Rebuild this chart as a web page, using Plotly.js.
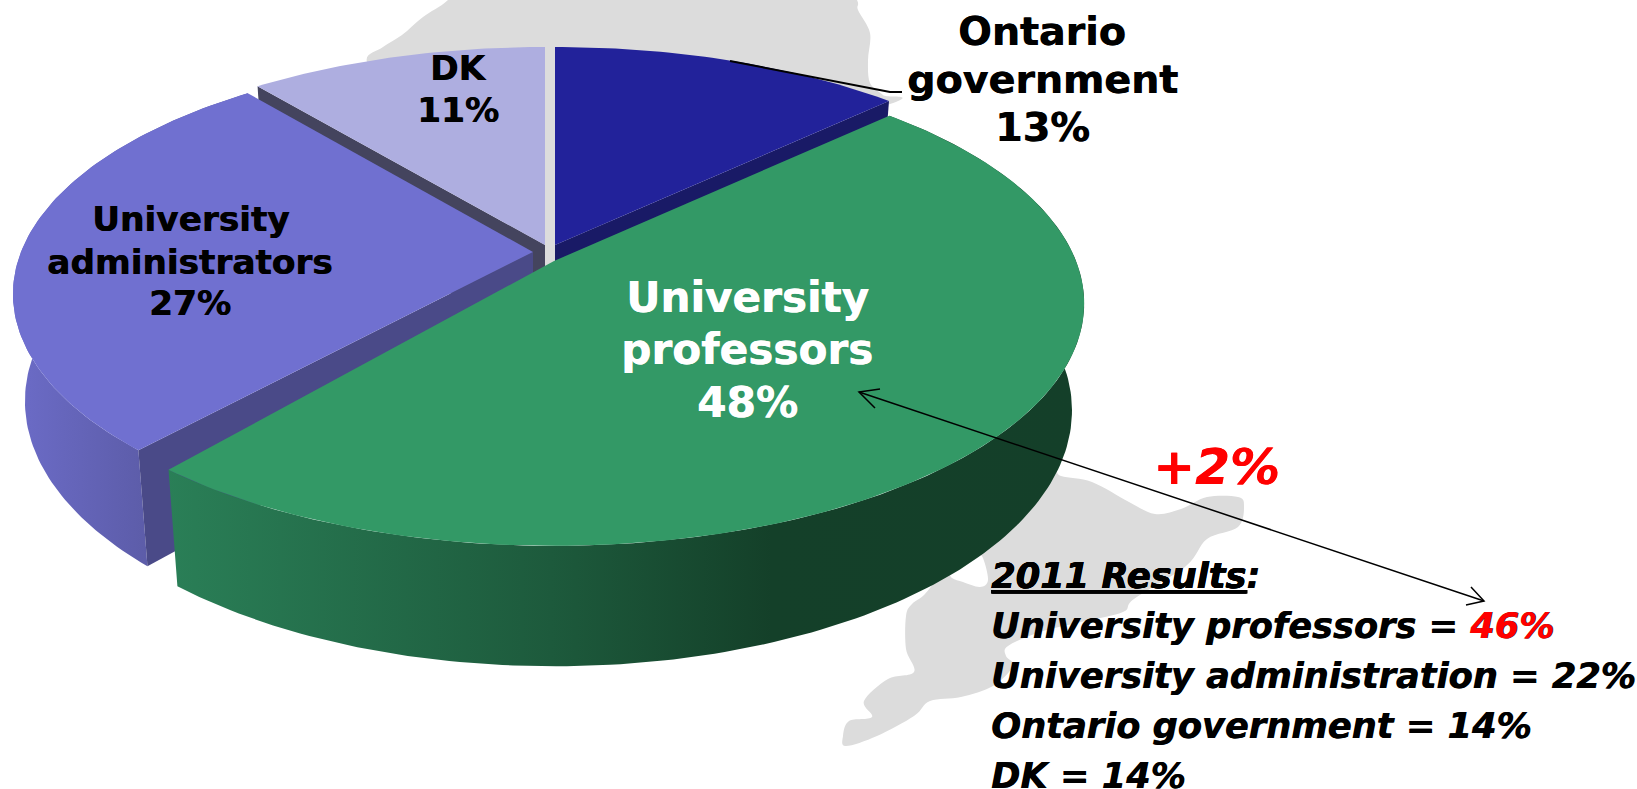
<!DOCTYPE html>
<html>
<head>
<meta charset="utf-8">
<script src="https://cdn.plot.ly/plotly-3.0.1.min.js"></script>
<style>html,body{margin:0;padding:0;background:#fff}#chart{width:1637px;height:789px}</style>
</head>
<body>
<div id="chart"></div>
<script>
// ---- data ----
const categories = ["Ontario government", "University professors", "University administrators", "DK"];
const labelPercents = [13, 48, 27, 11];
const drawnShares = [12.8, 48.9, 27.4, 10.9];   // slice sizes, clockwise from 12 o'clock
const results2011Names = ["University professors", "University administration", "Ontario government", "DK"];
const results2011Values = [46, 22, 14, 14];
const changeLabel = "+2%";

// ---- styles and geometry ----
const FONT = "'DejaVu Sans', Verdana, sans-serif";
const topColors = ["#22229a", "#339966", "#7070d0", "#aeaee0"];
const cutColors = ["#191a66", "#1d5a3c", "#4a4a88", "#44445e"];
const apex = [[555, 245], [554, 261], [533, 252], [545, 245]];
const radiusX = [520, 522, 512, 516];
const radiusY = [232.7, 235, 232.7, 232.7];
const endTrimDeg = [0, 2.4, 0, 0];   // exploded-slice visual gap
const persp = {k: 0.175, shrink: 0.977, depth: 127};

function topPoint(i, deg) {
  const t = deg * Math.PI / 180, u = Math.sin(t), v = Math.cos(t), d = 1 + persp.k * v;
  return {x: apex[i][0] + radiusX[i] * u / d, y: apex[i][1] - radiusY[i] * v / d, d: d};
}
function bottomPoint(i, p) {
  const drop = persp.depth * (1 - persp.k) / p.d;
  return [apex[i][0] + persp.shrink * (p.x - apex[i][0]),
          apex[i][1] + drop + persp.shrink * (p.y - apex[i][1])];
}
const total = drawnShares.reduce((s, v) => s + v, 0);
const ranges = [];
drawnShares.reduce((acc, v, i) => { const e = acc + v / total * 360; ranges[i] = [acc, e - endTrimDeg[i]]; return e; }, 0);

function arc(i) {
  const [s, e] = ranges[i], pts = [], n = Math.ceil(e - s);
  for (let j = 0; j <= n; j++) pts.push(topPoint(i, s + (e - s) * j / n));
  return pts;
}
function poly(pts, color, extra) {
  return Object.assign({
    type: "scatter", mode: "lines", x: pts.map(p => p[0]), y: pts.map(p => p[1]),
    fill: "toself", fillcolor: color, line: {width: 0, color: color},
    hoverinfo: "skip", showlegend: false
  }, extra || {});
}
const xy = p => [p.x, p.y];
function wedge(i) {
  const p = [apex[i]].concat(arc(i).map(xy));
  p.push(apex[i]);
  return poly(p, topColors[i]);
}
function cutWall(i, atEnd) {
  const c = topPoint(i, atEnd ? ranges[i][1] : ranges[i][0]);
  const centre = {x: apex[i][0], y: apex[i][1], d: 1};
  return poly([apex[i], xy(c), bottomPoint(i, c), bottomPoint(i, centre), apex[i]], cutColors[i]);
}
function outerWall(i, stops, start, stop) {
  const a = arc(i), p = a.map(xy).concat(a.map(q => bottomPoint(i, q)).reverse());
  p.push(xy(a[0]));
  return poly(p, stops[0][1], {fillgradient: {type: "horizontal", start: start, stop: stop, colorscale: stops}});
}

const traces = [
  cutWall(3, false),
  cutWall(0, true),
  wedge(3),
  wedge(0),
  outerWall(2, [[0, "#6b6bc6"], [1, "#5c5ca8"]], 20, 150),
  cutWall(2, false),
  wedge(2),
  outerWall(1, [[0, "#2a7f57"], [0.42, "#1d5a3c"], [0.66, "#144029"], [1, "#143f29"]], 166, 1084),
  wedge(1)
];

// decorative grey silhouette behind the pie, smoothed through its outline points
const mapUpperOutline = [[367,62],[383,47],[402,35],[423,17],[448,0],[475,-30],[840,-30],[857,0],[858,10],[870,33],[868,60],[870,83],[883,95],[890,104],[700,160],[560,262],[540,262],[400,100]];
const mapLowerOutline = [[1061,476],[1092,482],[1129,502],[1155,514],[1181,509],[1207,497],[1238,497],[1244,506],[1238,527],[1207,539],[1186,566],[1134,599],[1123,612],[1081,622],[1040,632],[1008,646],[1006,656],[1013,666],[993,686],[961,697],[930,701],[914,716],[877,736],[846,746],[843,736],[849,721],[872,717],[864,701],[888,679],[914,672],[906,649],[906,616],[912,604],[925,594],[945,570],[952,578],[963,582],[980,587],[988,580],[983,558],[975,545],[1000,500],[1050,470]];
function smoothPath(p) {
  const n = p.length; let s = "M" + p[0].join(",");
  for (let i = 0; i < n; i++) {
    const a = p[(i - 1 + n) % n], b0 = p[i], c = p[(i + 1) % n], e = p[(i + 2) % n];
    s += " C" + (b0[0] + (c[0] - a[0]) / 6) + "," + (b0[1] + (c[1] - a[1]) / 6) + " " +
         (c[0] - (e[0] - b0[0]) / 6) + "," + (c[1] - (e[1] - b0[1]) / 6) + " " + c[0] + "," + c[1];
  }
  return s + " Z";
}
const grey = {type: "path", layer: "below", fillcolor: "#dcdcdc", line: {width: 0}};
const ink = {type: "path", layer: "above", line: {color: "#000", width: 1.5}};
const shapes = [
  Object.assign({path: smoothPath(mapUpperOutline)}, grey),
  Object.assign({path: smoothPath(mapLowerOutline)}, grey),
  Object.assign({}, ink, {path: "M730,61 L890,92 L902,92", line: {color: "#000", width: 2}}),
  Object.assign({path: "M859,392 L1484,601"}, ink),
  Object.assign({path: "M880,389 L859,392 L875,408"}, ink),
  Object.assign({path: "M1471,587 L1484,601 L1466,605"}, ink)
];

function note(text, x, y, size, color, anchor) {
  const c = color || "#000";
  return {text: text, x: x, y: y, xref: "x", yref: "y", showarrow: false,
          xanchor: anchor || "center", yanchor: "middle",
          font: {family: FONT, size: size, color: c, shadow: "0.6px 0 0 " + c}};
}
const b = s => "<b>" + s + "</b>";
const bi = s => "<b><i>" + s + "</i></b>";
const annotations = [
  note(b("Ontario"), 1042, 31, 39.6),
  note(b("government"), 1042, 79, 39.6),
  note(b(labelPercents[0] + "%"), 1042, 127, 39.6),
  note(b("University"), 747, 297, 42.2, "#fff"),
  note(b("professors"), 747, 349, 42.2, "#fff"),
  note(b(labelPercents[1] + "%"), 747, 402, 42.2, "#fff"),
  note(b("University"), 190, 219, 34.3),
  note(b("administrators"), 190, 262, 34.3),
  note(b(labelPercents[2] + "%"), 190, 303, 34.3),
  note(b(categories[3]), 458, 68, 34.3),
  note(b(labelPercents[3] + "%"), 458, 110, 34.3),
  note(bi(changeLabel), 1216, 467, 50, "#ff0000"),
  note("<b><i><u>2011 Results</u>:</i></b>", 989, 575, 35.2, "#000", "left"),
  note(bi(results2011Names[0] + " = <span style='color:#ff0000'>" + results2011Values[0] + "%</span>"), 989, 625, 35.2, "#000", "left"),
  note(bi(results2011Names[1] + " = " + results2011Values[1] + "%"), 989, 675, 35.2, "#000", "left"),
  note(bi(results2011Names[2] + " = " + results2011Values[2] + "%"), 989, 725, 35.2, "#000", "left"),
  note(bi(results2011Names[3] + " = " + results2011Values[3] + "%"), 989, 775, 35.2, "#000", "left")
];

const axis = {visible: false, fixedrange: true, showgrid: false, zeroline: false};
Plotly.newPlot("chart", traces, {
  width: 1637, height: 789,
  margin: {l: 0, r: 0, t: 0, b: 0, pad: 0},
  paper_bgcolor: "#fff", plot_bgcolor: "#fff",
  xaxis: Object.assign({range: [0, 1637]}, axis),
  yaxis: Object.assign({range: [789, 0]}, axis),
  shapes: shapes, annotations: annotations, showlegend: false, hovermode: false
}, {displayModeBar: false, staticPlot: true});
</script>
</body>
</html>
